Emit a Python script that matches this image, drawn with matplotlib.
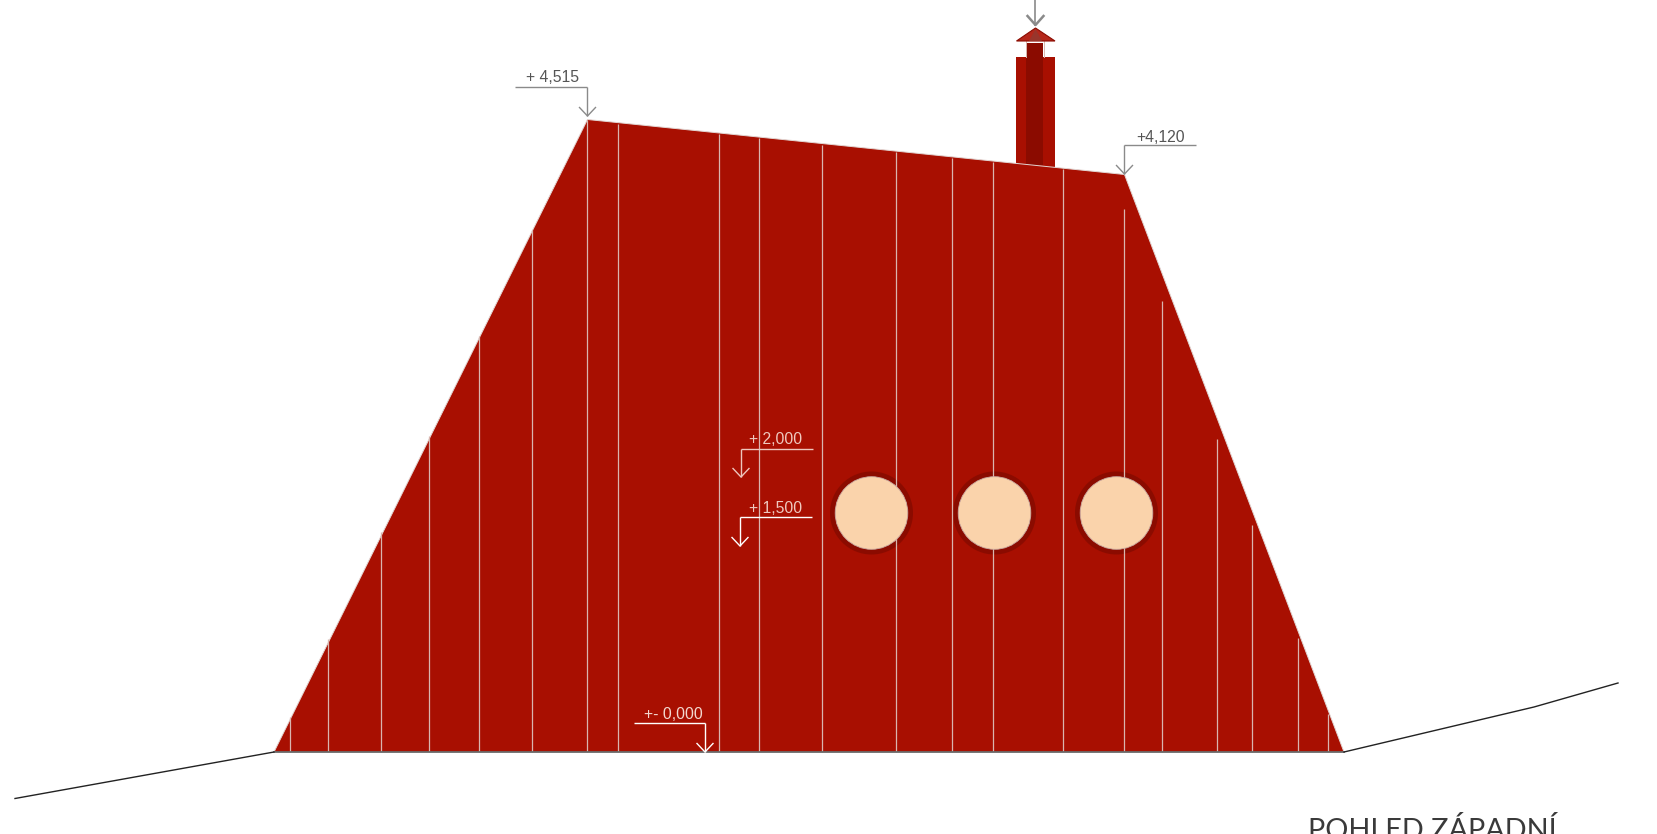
import matplotlib
matplotlib.use("Agg")
import matplotlib.pyplot as plt
from matplotlib.patches import Polygon, Circle, Rectangle

# Drawing geometry, in reference pixels
wall_x = [274, 587.5, 1124.5, 1344]
wall_y = [752, 119.5, 174.5, 752]
ground_left_x = [15, 274]
ground_left_y = [798.5, 752]
ground_right_x = [1344, 1534, 1618]
ground_right_y = [752, 707, 683]
plank_x = [290.5, 328.5, 381.5, 429.5, 479.5, 532.5, 587.5, 618, 719.5, 759.5, 822, 896, 952, 993.5, 1063, 1124.5, 1162.5, 1217.5, 1252.5, 1298, 1328.5]
plank_top = [717, 639, 532, 436, 336, 229.5, 120, 123.5, 134, 138, 144.5, 152, 158, 162, 169, 209, 301, 439, 524.5, 637.5, 714]
window_x = [871.5, 994.5, 1116.5]
window_y = [513, 513, 513]
level_labels = ["+ 4,515", "+4,120", "+ 2,000", "+ 1,500", "+- 0,000"]
level_hx0 = [515.5, 1124.5, 741, 740, 634]
level_hx1 = [587.5, 1196.5, 813, 812, 705]
level_hy = [86.5, 145, 448.5, 517, 723]
level_ax = [587.5, 1124.5, 741, 740, 705]
level_ay = [116, 174, 477, 546, 752]
level_tx = [553, 1160.5, 776, 775.5, 673.5]
level_ty = [77, 137.5, 439.5, 508.5, 714.5]
level_col = ["#8a8a8a", "#8a8a8a", "#eec6bd", "#ffffff", "#ffffff"]
text_col = ["#555555", "#555555", "#efc9bf", "#efc9bf", "#f3d8d0"]
title = "POHLED ZÁPADNÍ"

RED = "#a80f01"
DARK = "#8b0b00"
PEACH = "#fad3ab"

fig = plt.figure(figsize=(16.58, 8.34), dpi=100, facecolor="white")
ax = fig.add_axes([0, 0, 1, 1])
ax.set_xlim(0, 1658)
ax.set_ylim(834, 0)
ax.axis("off")

# chimney
ax.add_patch(Rectangle((1016.5, 57), 38.5, 112, fc=RED, ec="none", zorder=1))
ax.add_patch(Rectangle((1026.5, 43), 17, 122, fc=DARK, ec="none", zorder=1.1))
ax.plot([1026, 1026], [41, 57], color="#d8b8b0", lw=0.7, zorder=1.2)
ax.plot([1044, 1044], [41, 57], color="#d8b8b0", lw=0.7, zorder=1.2)
ax.add_patch(Polygon([(1016.5, 41), (1035.5, 28), (1055, 41)], closed=True,
                     fc="#b5271b", ec=DARK, lw=0.8, zorder=1.3))
ax.add_patch(Polygon([(1029, 41), (1035.5, 29), (1042, 41)], closed=True,
                     fc="#99352b", ec="none", zorder=1.4))

# wall
ax.add_patch(Polygon(list(zip(wall_x, wall_y)), closed=True, fc=RED, ec="none", zorder=2))
ax.plot(wall_x, wall_y, color="#e2d6d3", lw=0.7, zorder=2.1)
ax.plot([wall_x[0], wall_x[-1]], [wall_y[0], wall_y[-1]], color="#6a6a6a", lw=1.3, zorder=4)

# window reveals sit under the planks, the glass above them
for x, y in zip(window_x, window_y):
    ax.add_patch(Circle((x, y), 41.5, fc=DARK, ec="none", zorder=2.2))
    ax.add_patch(Circle((x, y), 36.3, fc=PEACH, ec="#c9a9a0", lw=0.6, zorder=3.1))

# planks
for x, t in zip(plank_x, plank_top):
    ax.plot([x, x], [t, 752], color="#d9b5ae", lw=0.9, zorder=2.5, solid_capstyle="butt")

# ground
ax.plot(ground_left_x, ground_left_y, color="#222222", lw=1.0, zorder=4)
ax.plot(ground_right_x, ground_right_y, color="#222222", lw=1.0, zorder=4)

# level markers
for lab, x0, x1, hy, xa, ya, tx, ty, c, tc in zip(level_labels, level_hx0, level_hx1, level_hy,
                                                  level_ax, level_ay, level_tx, level_ty,
                                                  level_col, text_col):
    ax.plot([x0, x1], [hy, hy], color=c, lw=1.0, zorder=5, solid_capstyle="butt")
    ax.plot([xa, xa], [hy, ya], color=c, lw=1.0, zorder=5, solid_capstyle="butt")
    ax.plot([xa - 8, xa, xa + 8], [ya - 8.5, ya, ya - 8.5], color=c, lw=1.0, zorder=5)
    ax.text(tx, ty, lab, color=tc, fontsize=11.3, family="Liberation Sans",
            ha="center", va="center", zorder=6)

# arrow above the chimney
ax.plot([1035.5, 1035.5], [0, 25], color="#8a8a8a", lw=1.2, zorder=5)
ax.plot([1027.5, 1035.5, 1043.5], [16, 25, 16], color="#8a8a8a", lw=1.8, zorder=5)

# title, cut by the lower edge as in the reference
ax.text(1432, 839, title, color="#3a3a3a", fontsize=20.8, family="Lato", weight="normal",
        ha="center", va="baseline", clip_on=False, zorder=6)

fig.savefig("out.png", dpi=100, facecolor="white")
